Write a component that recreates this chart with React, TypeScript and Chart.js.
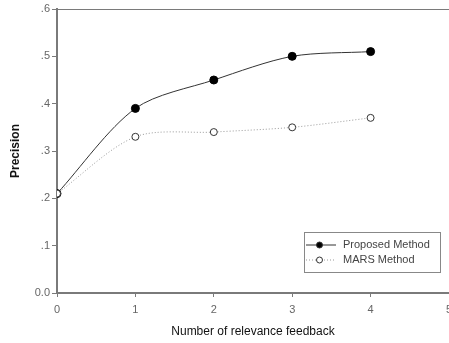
import React, { useEffect, useRef } from "react";
import { Chart, registerables } from "chart.js";

Chart.register(...registerables);

const xValues = [0, 1, 2, 3, 4];
const proposed = [0.21, 0.39, 0.45, 0.5, 0.51];
const mars = [0.21, 0.33, 0.34, 0.35, 0.37];
const seriesNames = ["Proposed Method", "MARS Method"];
const yTickLabels: Record<string, string> = {
  "0": "0.0",
  "0.1": ".1",
  "0.2": ".2",
  "0.3": ".3",
  "0.4": ".4",
  "0.5": ".5",
  "0.6": ".6",
};
const xTitle = "Number of relevance feedback";
const yTitle = "Precision";

const FONT = "Arial, 'Liberation Sans', sans-serif";
const AXIS = "#7a7a7a";

const framePlugin = {
  id: "frame",
  afterDatasetsDraw(chart: any) {
    const { ctx, chartArea } = chart;
    ctx.save();
    ctx.strokeStyle = AXIS;
    ctx.lineWidth = 1;
    ctx.beginPath();
    ctx.moveTo(chartArea.left, chartArea.top + 0.5);
    ctx.lineTo(chartArea.right, chartArea.top + 0.5);
    ctx.stroke();

    // legend box
    const x = 304.5, y = 232.5, w = 136, h = 40;
    ctx.fillStyle = "#ffffff";
    ctx.fillRect(x, y, w, h);
    ctx.strokeStyle = "#888";
    ctx.strokeRect(x, y, w, h);
    const rows = [
      { y: 245, dash: [] as number[], color: "#333", fill: "#000" },
      { y: 260, dash: [1, 2], color: "#999", fill: "#fff" },
    ];
    rows.forEach((r, i) => {
      ctx.setLineDash(r.dash);
      ctx.strokeStyle = r.color;
      ctx.beginPath();
      ctx.moveTo(306, r.y);
      ctx.lineTo(336, r.y);
      ctx.stroke();
      ctx.setLineDash([]);
      ctx.beginPath();
      ctx.arc(319.5, r.y, 3, 0, Math.PI * 2);
      ctx.fillStyle = r.fill;
      ctx.fill();
      ctx.strokeStyle = "#333";
      ctx.stroke();
      ctx.fillStyle = "#444";
      ctx.font = `11px ${FONT}`;
      ctx.textBaseline = "middle";
      ctx.textAlign = "left";
      ctx.fillText(seriesNames[i], 343, r.y);
    });
    ctx.restore();
  },
};

export default function App() {
  const ref = useRef<HTMLCanvasElement>(null);
  useEffect(() => {
    const chart = new Chart(ref.current!, {
      type: "line",
      data: {
        datasets: [
          {
            label: seriesNames[1],
            data: xValues.map((x, i) => ({ x, y: mars[i] })),
            borderColor: "#999",
            borderWidth: 1,
            borderDash: [1, 2],
            tension: 0.3,
            pointRadius: 3.5,
            pointBackgroundColor: "#fff",
            pointBorderColor: "#333",
            pointBorderWidth: 1,
            order: 0,
          },
          {
            label: seriesNames[0],
            data: xValues.map((x, i) => ({ x, y: proposed[i] })),
            borderColor: "#333",
            borderWidth: 1,
            tension: 0.3,
            pointRadius: 4,
            pointBackgroundColor: "#000",
            pointBorderColor: "#000",
            order: 1,
          },
        ],
      },
      options: {
        animation: false,
        responsive: false,
        layout: { autoPadding: false, padding: { top: 9, right: 0, left: 0, bottom: 0 } },
        plugins: { legend: { display: false }, tooltip: { enabled: false } },
        scales: {
          x: {
            type: "linear",
            min: 0,
            max: 5,
            border: { color: AXIS, width: 2 },
            grid: { drawOnChartArea: false, drawTicks: true, tickLength: 4, color: AXIS },
            ticks: { stepSize: 1, color: "#666", font: { family: FONT, size: 11 }, padding: 6 },
            title: {
              display: true,
              text: xTitle,
              color: "#111",
              font: { family: FONT, size: 12 },
              padding: { top: 8 },
            },
            afterFit(scale: any) {
              scale.height = 50;
              scale.paddingLeft = 0;
              scale.paddingRight = 0;
            },
          },
          y: {
            min: 0,
            max: 0.6,
            border: { color: AXIS, width: 2 },
            grid: { drawOnChartArea: false, drawTicks: true, tickLength: 5, color: AXIS },
            ticks: {
              stepSize: 0.1,
              color: "#666",
              font: { family: FONT, size: 11 },
              padding: 2,
              callback: (v: any) => yTickLabels[String(Math.round(Number(v) * 10) / 10)] ?? "",
            },
            title: {
              display: true,
              text: yTitle,
              color: "#111",
              font: { family: FONT, size: 12, weight: "bold" },
              padding: { top: 8, bottom: 4 },
            },
            afterFit(scale: any) {
              scale.width = 57;
            },
          },
        },
      },
      plugins: [framePlugin],
    });
    return () => chart.destroy();
  }, []);
  return (
    <div style={{ position: "fixed", left: 0, top: 0, width: 449, height: 343, background: "#fff" }}>
      <canvas ref={ref} width={449} height={343} />
    </div>
  );
}
